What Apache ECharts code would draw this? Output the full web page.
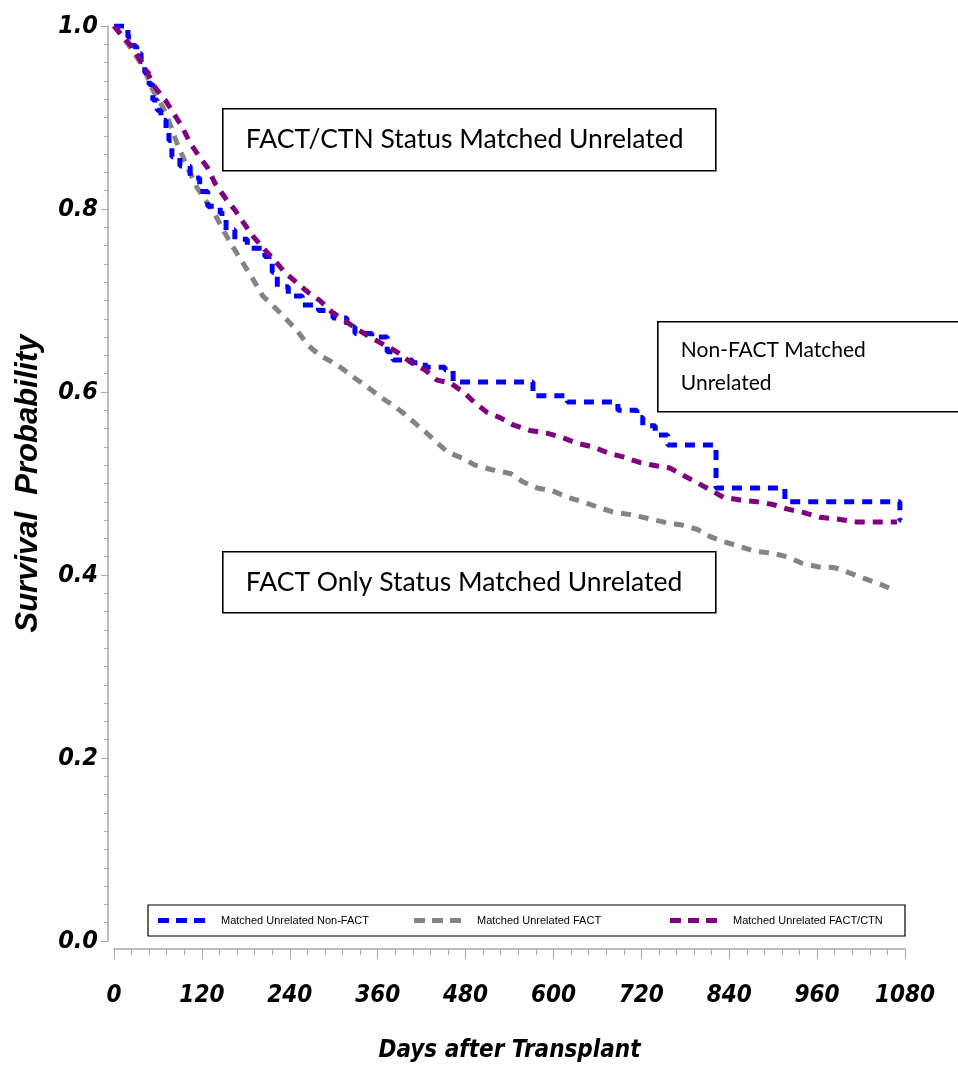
<!DOCTYPE html>
<html lang="en">
<head>
    <meta charset="UTF-8">
    <title>Survival Probability</title>
    <script src="https://cdn.jsdelivr.net/npm/echarts@6.0.0/dist/echarts.min.js"></script>
    <style>
        html, body { margin: 0; padding: 0; background: #fff; }
        #main { width: 958px; height: 1070px; }
    </style>
</head>
<body>
<div id="main"></div>
<script>
    // axis ticks
    var xTicks = [0, 120, 240, 360, 480, 600, 720, 840, 960, 1080];
    var yTicks = [0, 0.2, 0.4, 0.6, 0.8, 1.0];

    var seriesNames = ['Matched Unrelated Non-FACT', 'Matched Unrelated FACT', 'Matched Unrelated FACT/CTN'];

    // [day, survival]
    var nonFact = [[0, 1.0], [14, 0.997], [19, 0.988], [26, 0.978], [31, 0.970], [37, 0.961], [42, 0.949],
        [48, 0.936], [53, 0.919], [59, 0.908], [64, 0.897], [71, 0.886], [75, 0.875], [79, 0.857],
        [90, 0.847], [104, 0.834], [117, 0.819], [128, 0.803], [145, 0.795], [153, 0.777], [165, 0.767],
        [182, 0.757], [206, 0.748], [216, 0.731], [223, 0.715], [238, 0.705], [257, 0.695], [279, 0.689],
        [299, 0.681], [318, 0.671], [329, 0.664], [352, 0.660], [373, 0.644], [381, 0.635], [407, 0.632],
        [425, 0.627], [452, 0.624], [463, 0.611], [572, 0.596], [619, 0.589], [688, 0.580], [714, 0.572],
        [722, 0.563], [739, 0.553], [756, 0.542], [822, 0.495], [916, 0.480], [1073, 0.460], [1075, 0.460]];

    var fact = [[0, 1.0], [22, 0.977], [40, 0.955], [53, 0.930], [67, 0.911], [76, 0.894], [86, 0.872],
        [100, 0.846], [113, 0.824], [127, 0.807], [138, 0.794], [149, 0.777], [162, 0.759], [176, 0.741],
        [190, 0.723], [203, 0.705], [220, 0.692], [236, 0.679], [250, 0.667], [265, 0.651], [281, 0.640],
        [295, 0.634], [311, 0.626], [329, 0.615], [347, 0.605], [363, 0.595], [380, 0.586], [395, 0.577],
        [411, 0.566], [427, 0.555], [442, 0.544], [456, 0.534], [475, 0.528], [493, 0.520], [516, 0.515],
        [541, 0.511], [558, 0.502], [578, 0.495], [599, 0.492], [619, 0.485], [640, 0.480], [661, 0.474],
        [681, 0.469], [705, 0.466], [728, 0.462], [750, 0.458], [773, 0.455], [796, 0.450], [814, 0.442],
        [830, 0.437], [851, 0.432], [875, 0.426], [898, 0.424], [919, 0.420], [939, 0.413], [961, 0.409],
        [984, 0.408], [1005, 0.402], [1025, 0.396], [1046, 0.390], [1066, 0.383]];

    var factCtn = [[0, 1.0], [26, 0.976], [45, 0.950], [56, 0.933], [70, 0.919], [81, 0.905], [93, 0.890],
        [104, 0.872], [115, 0.859], [127, 0.846], [138, 0.828], [152, 0.812], [165, 0.799], [176, 0.786],
        [190, 0.770], [203, 0.758], [217, 0.746], [233, 0.731], [250, 0.719], [265, 0.709], [281, 0.700],
        [298, 0.687], [315, 0.678], [333, 0.668], [350, 0.660], [370, 0.651], [386, 0.644], [404, 0.633],
        [425, 0.624], [441, 0.613], [459, 0.610], [477, 0.600], [493, 0.588], [509, 0.578], [527, 0.572],
        [545, 0.564], [568, 0.558], [591, 0.555], [613, 0.550], [632, 0.544], [654, 0.540], [673, 0.534],
        [695, 0.529], [718, 0.523], [736, 0.520], [759, 0.517], [777, 0.509], [796, 0.501], [814, 0.493],
        [832, 0.485], [855, 0.482], [878, 0.480], [900, 0.477], [920, 0.472], [943, 0.468], [964, 0.463],
        [989, 0.461], [1014, 0.458], [1069, 0.458]];

    var tickFont = '"Liberation Sans Narrow", "DejaVu Sans Condensed", "Liberation Sans", sans-serif';
    var boxFont = 'Lato, "Open Sans", sans-serif';

    var myChart = echarts.init(document.getElementById('main'));

    // text boxes drawn on top of the plot
    function boxNote(x, y, w, h, lines, size, lineH) {
        return {
            type: 'group',
            left: x,
            top: y,
            children: [
                {type: 'rect', shape: {x: 0, y: 0, width: w, height: h},
                    style: {fill: '#fff', stroke: '#000', lineWidth: 1.6}},
                {type: 'text', x: 23, y: h / 2,
                    style: {text: lines.join('\n'), font: size + 'px ' + boxFont, fill: '#000',
                        verticalAlign: 'middle', lineHeight: lineH}}
            ]
        };
    }

    var dash = [10, 8];

    var option = {
        animation: false,
        backgroundColor: '#fff',
        grid: {left: 114, right: 53, top: 26, bottom: 129},
        legend: {
            data: seriesNames,
            left: 148,
            top: 905,
            orient: 'horizontal',
            padding: [10, 0, 10, 10],
            itemGap: 21,
            itemWidth: 47,
            itemHeight: 5,
            icon: 'path://M0,0h11v5h-11z M18,0h11v5h-11z M36,0h11v5h-11z',
            itemStyle: {borderWidth: 0},
            borderColor: '#000',
            borderWidth: 1.2,
            formatter: function (name) { return '{t|' + name + '}'; },
            textStyle: {
                padding: [0, 0, 0, 11],
                rich: {t: {width: 172, fontFamily: '"Liberation Sans", Arial, sans-serif', fontSize: 11,
                    color: '#000', lineHeight: 15}}
            }
        },
        xAxis: {
            type: 'value',
            min: 0,
            max: 1080,
            interval: 120,
            offset: 8,
            name: 'Days after Transplant',
            nameLocation: 'middle',
            nameGap: 90,
            nameTextStyle: {fontFamily: tickFont, fontSize: 24, fontWeight: 'bold', fontStyle: 'italic', color: '#000'},
            axisLine: {onZero: false, lineStyle: {color: '#a8a8a8', width: 1.5}},
            axisTick: {length: 10, lineStyle: {color: '#a8a8a8'}},
            minorTick: {show: true, splitNumber: 5, length: 6, lineStyle: {color: '#a8a8a8'}},
            splitLine: {show: false},
            axisLabel: {margin: 35, fontFamily: tickFont, fontSize: 24, fontWeight: 'bold', fontStyle: 'italic',
                color: '#000', formatter: function (v) { return xTicks.indexOf(v) >= 0 ? String(v) : ''; }}
        },
        yAxis: {
            type: 'value',
            min: 0,
            max: 1,
            interval: 0.2,
            offset: 6,
            name: 'Survival  Probability',
            nameLocation: 'middle',
            nameGap: 64,
            nameRotate: 90,
            nameTextStyle: {fontFamily: '"Liberation Sans", Arial, sans-serif', fontSize: 31, fontWeight: 'bold',
                fontStyle: 'italic', color: '#000'},
            axisLine: {show: true, onZero: false, lineStyle: {color: '#a8a8a8', width: 1.5}},
            axisTick: {show: true, length: 7, lineStyle: {color: '#a8a8a8'}},
            minorTick: {show: true, splitNumber: 10, length: 4, lineStyle: {color: '#a8a8a8'}},
            splitLine: {show: false},
            axisLabel: {margin: 10, fontFamily: tickFont, fontSize: 25, fontWeight: 'bold', fontStyle: 'italic',
                color: '#000', formatter: function (v) { return v.toFixed(1); }}
        },
        series: [
            {name: seriesNames[1], type: 'line', data: fact, showSymbol: false, symbol: 'none',
                color: '#848484', lineStyle: {color: '#848484', width: 5, type: dash}},
            {name: seriesNames[0], type: 'line', data: nonFact, step: 'end', showSymbol: false, symbol: 'none',
                color: '#0000ff', lineStyle: {color: '#0000ff', width: 5, type: dash}},
            {name: seriesNames[2], type: 'line', data: factCtn, showSymbol: false, symbol: 'none',
                color: '#800080', lineStyle: {color: '#800080', width: 5, type: dash}}
        ],
        graphic: [
            boxNote(222, 108, 493, 62, ['FACT/CTN Status Matched Unrelated'], 26.5, 30),
            boxNote(657, 321, 302, 90, ['Non-FACT Matched', 'Unrelated'], 21, 33),
            boxNote(222, 551, 493, 61, ['FACT Only Status Matched Unrelated'], 26.5, 30)
        ]
    };

    myChart.setOption(option);
</script>
</body>
</html>
